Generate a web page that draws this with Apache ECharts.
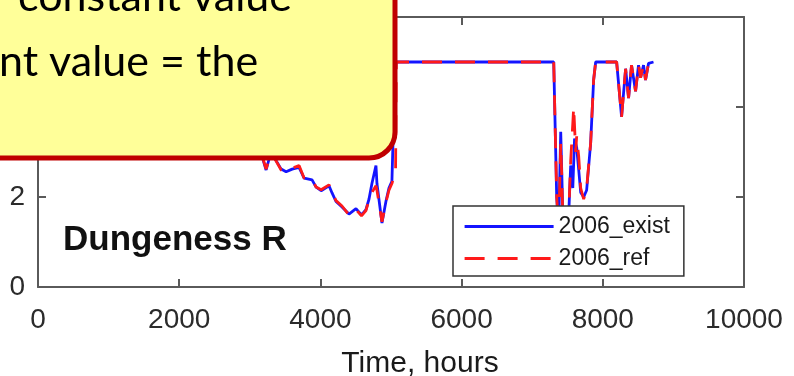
<!DOCTYPE html>
<html>
<head>
<meta charset="utf-8">
<script src="https://cdn.jsdelivr.net/npm/echarts@6/dist/echarts.min.js"></script>
<style>
  html, body { margin: 0; padding: 0; background: #fff; }
  #chart { width: 794px; height: 376px; }
</style>
</head>
<body>
<div id="chart"></div>
<script>
// Hourly series, Dungeness R, 2006 runs
const existHours = [3000, 3100, 3231, 3300, 3444, 3514, 3600, 3698, 3769, 3882, 3939, 4010, 4122, 4165, 4221, 4306, 4405, 4504, 4582, 4645, 4688, 4730, 4787, 4801, 4872, 4928, 4971, 5013, 5042, 5070,
  7305, 7347, 7375, 7404, 7418, 7440, 7480, 7517, 7545, 7575, 7600, 7630, 7659, 7687, 7729, 7771, 7828, 7870, 7899,
  8196, 8266, 8323, 8365, 8407, 8464, 8506, 8535, 8577, 8605, 8648, 8718];
const existValues = [3.6, 3.3, 2.6, 3.0, 2.62, 2.56, 2.62, 2.66, 2.42, 2.38, 2.22, 2.14, 2.25, 2.09, 1.9, 1.78, 1.62, 1.74, 1.6, 1.72, 1.95, 2.3, 2.7, 2.3, 1.42, 1.9, 2.2, 2.35, 4.0, 5.0,
  5.0, 2.0, 1.3, 3.45, 2.6, 1.2, 1.0, 1.6, 2.7, 2.2, 3.3, 3.1, 2.6, 2.1, 2.0, 2.15, 3.2, 4.6, 5.0,
  5.0, 3.78, 4.85, 4.2, 4.93, 4.35, 4.93, 4.65, 4.93, 4.6, 4.97, 5.0];

const refHours = [3000, 3100, 3231, 3300, 3444, 3514, 3600, 3698, 3769, 3882, 3939, 4010, 4122, 4165, 4221, 4306, 4405, 4504, 4582, 4645, 4688, 4730, 4787, 4801, 4872, 4928, 4971, 5013, 5042, 5065, 5075,
  7305, 7347, 7375, 7404, 7418, 7440, 7480, 7517, 7545, 7588, 7616, 7630, 7659, 7687, 7729, 7771, 7828, 7870, 7899,
  8196, 8266, 8323, 8365, 8407, 8464, 8506, 8535, 8577, 8605, 8648, 8718];
const refValues = [3.6, 3.3, 2.62, 3.0, 2.6, 2.58, 2.64, 2.7, 2.42, 2.4, 2.22, 2.16, 2.27, 2.1, 1.92, 1.8, 1.6, 1.72, 1.58, 1.7, 1.93, 2.1, 2.25, 2.15, 1.45, 1.88, 2.15, 2.3, 2.45, 2.6, 5.0,
  5.0, 2.0, 1.3, 3.2, 2.5, 1.2, 1.0, 1.6, 2.8, 4.0, 3.0, 3.35, 2.9, 2.2, 1.95, 2.2, 3.2, 4.6, 5.0,
  5.0, 3.78, 4.85, 4.2, 4.93, 4.35, 4.93, 4.65, 4.93, 4.6, 4.97, 5.0];

const xTicks = { min: 0, max: 10000, interval: 2000 };
const yTicks = { min: 0, max: 6, interval: 2 };

const pairs = (xs, ys) => xs.map((x, i) => [x, ys[i]]);

const axisColor = '#5a5a5a';
const labelFont = 'Liberation Sans, Arial, sans-serif';

const chart = echarts.init(document.getElementById('chart'), null, { renderer: 'canvas' });

const axisLine = { show: true, onZero: false, lineStyle: { color: axisColor, width: 2 } };
const axisTick = { show: true, inside: true, length: 8, lineStyle: { color: axisColor, width: 2 } };
const plain = v => String(v);

chart.setOption({
  animation: false,
  backgroundColor: '#ffffff',
  grid: { left: 38, right: 50, top: 17, bottom: 89, containLabel: false },
  xAxis: [
    { type: 'value', position: 'bottom', ...xTicks, axisLine, axisTick, splitLine: { show: false },
      axisLabel: { fontSize: 28, color: '#2b2b2b', margin: 19, fontFamily: labelFont, formatter: plain } },
    { type: 'value', position: 'top', ...xTicks, axisLine, axisTick, splitLine: { show: false },
      axisLabel: { show: false } }
  ],
  yAxis: [
    { type: 'value', position: 'left', ...yTicks, axisLine, axisTick, splitLine: { show: false },
      axisLabel: { fontSize: 28, color: '#2b2b2b', margin: 13, fontFamily: labelFont, formatter: plain } },
    { type: 'value', position: 'right', ...yTicks, axisLine, axisTick, splitLine: { show: false },
      axisLabel: { show: false } }
  ],
  legend: {
    orient: 'vertical',
    left: 453,
    top: 206,
    padding: [9, 14, 6, 10],
    itemGap: 9,
    itemWidth: 89,
    itemHeight: 14,
    backgroundColor: '#ffffff',
    borderColor: '#333333',
    borderWidth: 1.5,
    borderRadius: 0,
    itemStyle: { opacity: 0 },
    lineStyle: { width: 3.2 },
    textStyle: { fontSize: 23, color: '#1a1a1a', fontFamily: labelFont },
    data: ['2006_exist', '2006_ref']
  },
  series: [
    {
      name: '2006_exist', type: 'line', symbol: 'none', showSymbol: false,
      data: pairs(existHours, existValues),
      color: '#1414ff',
      lineStyle: { color: '#1414ff', width: 2.8 }
    },
    {
      name: '2006_ref', type: 'line', symbol: 'none', showSymbol: false,
      data: pairs(refHours, refValues),
      color: '#ff1a1a',
      lineStyle: { color: '#ff1a1a', width: 2.8, type: [20, 13] }
    }
  ],
  graphic: [
    {
      type: 'text', z: 50,
      style: { text: 'Time, hours', x: 420, y: 364, align: 'center', verticalAlign: 'middle',
        font: '30px Liberation Sans, Arial, sans-serif', fill: '#1a1a1a' }
    },
    {
      type: 'text', z: 50,
      style: { text: 'Dungeness R', x: 63, y: 240, align: 'left', verticalAlign: 'middle',
        font: 'bold 35px Liberation Sans, Arial, sans-serif', fill: '#111111' }
    },
    {
      type: 'group', z: 100,
      children: [
        {
          type: 'rect', z: 100,
          shape: { x: -30, y: -40, width: 425, height: 198, r: 26 },
          style: { fill: '#ffff99', stroke: '#c00000', lineWidth: 5 }
        },
        {
          type: 'text', z: 101,
          style: { text: 'constant value', x: 18, y: -3, align: 'left', verticalAlign: 'middle',
            font: '43px Lato, sans-serif', fill: '#000000' }
        },
        {
          type: 'text', z: 101,
          style: { text: 'nt value = the', x: -1, y: 62, align: 'left', verticalAlign: 'middle',
            font: '43px Lato, sans-serif', fill: '#000000' }
        }
      ]
    }
  ]
});
</script>
</body>
</html>
